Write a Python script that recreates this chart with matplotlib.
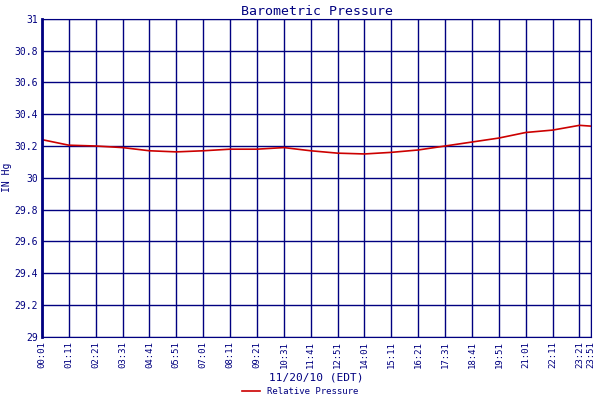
import matplotlib
matplotlib.use("Agg")
import matplotlib.pyplot as plt

tick_labels = ["00:01","01:11","02:21","03:31","04:41","05:51","07:01","08:11","09:21","10:31","11:41",
               "12:51","14:01","15:11","16:21","17:31","18:41","19:51","21:01","22:11","23:21","23:51"]
pressure = [30.24,30.205,30.20,30.19,30.17,30.163,30.17,30.18,30.18,30.19,30.17,
            30.155,30.15,30.16,30.175,30.20,30.225,30.25,30.285,30.30,30.33,30.325]

def mins(s):
    h, m = s.split(":")
    return int(h) * 60 + int(m)

x = [mins(s) for s in tick_labels]
navy = "#000080"
fig = plt.figure(figsize=(6, 4), dpi=100)
ax = fig.add_axes([0.07, 0.158, 0.915, 0.795])
ax.plot(x, pressure, color="#cc0000", lw=1.2, label="Relative Pressure")
ax.set_xlim(x[0], x[-1])
ax.set_ylim(29, 31)
ax.set_xticks(x)
ax.set_xticklabels(tick_labels, rotation=90, fontsize=6.5, family="DejaVu Sans Mono", color=navy)
ax.set_yticks([29 + 0.2 * i for i in range(11)])
ax.set_yticklabels(["29","29.2","29.4","29.6","29.8","30","30.2","30.4","30.6","30.8","31"],
                   fontsize=7, family="DejaVu Sans Mono", color=navy)
ax.grid(True, color=navy, lw=1)
ax.tick_params(length=0, pad=3)
for s in ax.spines.values():
    s.set_color(navy)
ax.spines["left"].set_linewidth(2)
ax.set_title("Barometric Pressure", fontsize=9.5, family="DejaVu Sans Mono", color=navy, pad=3)
ax.set_ylabel("IN Hg", fontsize=7, family="DejaVu Sans Mono", color=navy, labelpad=2)
ax.set_xlabel("11/20/10 (EDT)", fontsize=8, family="DejaVu Sans Mono", color=navy, labelpad=3)
fig.legend(loc="lower center", bbox_to_anchor=(0.5, -0.01), frameon=False,
           prop={"family": "DejaVu Sans Mono", "size": 6.5}, labelcolor=navy,
           handlelength=2, bbox_transform=fig.transFigure)
fig.savefig("out.png", dpi=100)
